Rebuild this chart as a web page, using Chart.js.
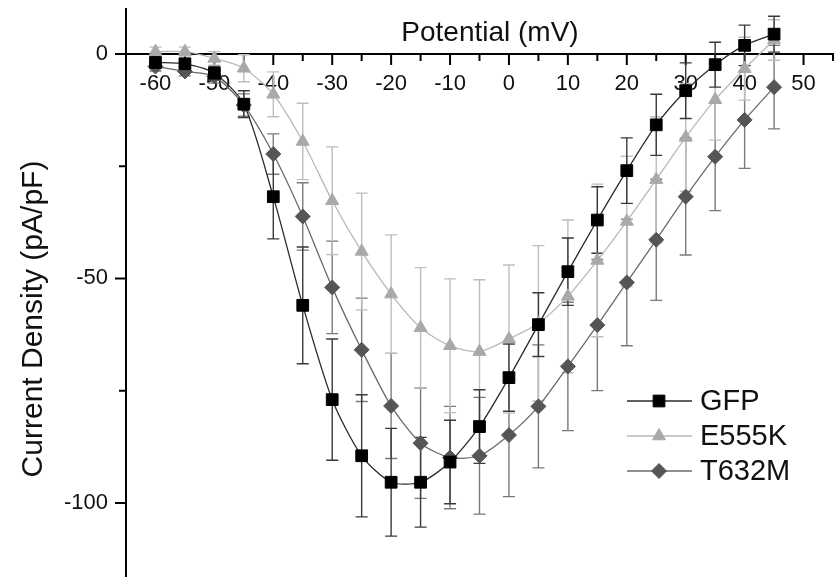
<!DOCTYPE html>
<html lang="en">
<head>
<meta charset="UTF-8">
<title>Current density vs potential</title>
<script src="https://cdn.jsdelivr.net/npm/chart.js@4.4.1/dist/chart.umd.min.js"></script>
<style>
  html, body { margin: 0; padding: 0; background: #fff; }
</style>
</head>
<body>
<canvas id="iv_chart" width="836" height="577"></canvas>
<script>
// potential steps (mV)
var voltages = [-60, -55, -50, -45, -40, -35, -30, -25, -20, -15, -10, -5, 0, 5, 10, 15, 20, 25, 30, 35, 40, 45];

// current density (pA/pF) and SEM
var gfpValues  = [-1.9, -2.2, -4.3, -11.2, -31.8, -56.0, -77.0, -89.5, -95.4, -95.4, -90.9, -83.0, -72.1, -60.3, -48.5, -37.0, -26.0, -15.8, -8.2, -2.4, 1.9, 4.4];
var gfpErrors  = [1.0, 1.0, 1.5, 3.0, 9.4, 13.0, 13.5, 13.6, 12.0, 10.0, 9.3, 8.2, 7.5, 7.1, 7.5, 7.4, 7.3, 6.8, 6.2, 5.0, 4.5, 4.0];
var e555kValues = [0.5, 0.5, -1.0, -3.2, -9.0, -19.5, -32.7, -44.0, -53.5, -61.0, -65.0, -66.3, -63.5, -60.0, -54.0, -46.0, -37.3, -28.0, -18.6, -10.2, -3.3, 3.1];
var e555kErrors = [1.0, 1.0, 1.5, 3.0, 5.0, 8.5, 12.0, 13.0, 13.2, 13.4, 14.9, 16.0, 16.5, 17.3, 17.0, 17.0, 14.5, 14.0, 12.0, 9.0, 7.0, 4.5];
var t632mValues = [-2.8, -3.9, -5.0, -11.4, -22.3, -36.2, -52.0, -65.9, -78.4, -86.7, -89.9, -89.5, -84.9, -78.5, -69.6, -60.4, -50.9, -41.4, -31.8, -22.9, -14.7, -7.4];
var t632mErrors = [1.0, 1.0, 1.5, 2.5, 4.5, 7.5, 10.3, 11.5, 11.7, 12.3, 11.4, 13.0, 13.7, 13.7, 14.3, 14.6, 14.1, 13.5, 13.0, 12.0, 10.8, 9.3];

var seriesLabels = ['GFP', 'E555K', 'T632M'];
var xTitle = 'Potential (mV)';
var yTitle = 'Current Density (pA/pF)';

var FONT = '"Liberation Sans", Arial, sans-serif';

function toPoints(vals) {
    return voltages.map(function (v, i) { return { x: v, y: vals[i] }; });
}

// keep scales from eating into the plot area
function noPadding(scale) {
    scale.paddingTop = 0;
    scale.paddingBottom = 0;
    scale.paddingLeft = 0;
    scale.paddingRight = 0;
}

// error bars drawn under the markers
var errorBars = {
    id: 'errorBars',
    beforeDatasetsDraw: function (chart) {
        var ctx = chart.ctx, xs = chart.scales.x, ys = chart.scales.y;
        ctx.save();
        for (var d = chart.data.datasets.length - 1; d >= 0; d--) {
            var ds = chart.data.datasets[d];
            ctx.strokeStyle = ds.errorColor;
            ctx.lineWidth = 1.4;
            ctx.beginPath();
            ds.data.forEach(function (p, i) {
                var px = xs.getPixelForValue(p.x);
                var top = ys.getPixelForValue(p.y + ds.errors[i]);
                var bot = ys.getPixelForValue(p.y - ds.errors[i]);
                ctx.moveTo(px, top); ctx.lineTo(px, bot);
                ctx.moveTo(px - 6, top); ctx.lineTo(px + 6, top);
                ctx.moveTo(px - 6, bot); ctx.lineTo(px + 6, bot);
            });
            ctx.stroke();
        }
        ctx.restore();
    }
};

// tick marks: long on labelled values, short in between
var axisTicks = {
    id: 'axisTicks',
    beforeDatasetsDraw: function (chart) {
        var ctx = chart.ctx, xs = chart.scales.x, ys = chart.scales.y;
        var y0 = ys.getPixelForValue(0), xl = chart.chartArea.left;
        ctx.save();
        ctx.strokeStyle = '#000';
        ctx.lineWidth = 2;
        ctx.beginPath();
        for (var v = -60; v <= 55; v += 5) {
            var px = xs.getPixelForValue(v);
            ctx.moveTo(px, y0);
            ctx.lineTo(px, y0 + (v % 10 === 0 ? 11 : 7));
        }
        for (var w = -100; w <= 0; w += 25) {
            var py = ys.getPixelForValue(w);
            ctx.moveTo(xl, py);
            ctx.lineTo(xl - (w % 50 === 0 ? 11 : 7), py);
        }
        ctx.stroke();
        ctx.restore();
    }
};

function drawMarker(ctx, style, x, y, r) {
    ctx.beginPath();
    if (style === 'rect') {
        var s = r * Math.SQRT1_2;
        ctx.rect(x - s, y - s, 2 * s, 2 * s);
    } else if (style === 'triangle') {
        ctx.moveTo(x, y - r);
        ctx.lineTo(x + r * Math.sin(2 * Math.PI / 3), y + r / 2);
        ctx.lineTo(x - r * Math.sin(2 * Math.PI / 3), y + r / 2);
        ctx.closePath();
    } else {
        ctx.moveTo(x, y - r); ctx.lineTo(x + r, y);
        ctx.lineTo(x, y + r); ctx.lineTo(x - r, y);
        ctx.closePath();
    }
    ctx.fill();
    ctx.stroke();
}

// axis titles and the legend box
var labelsAndLegend = {
    id: 'labelsAndLegend',
    afterDraw: function (chart) {
        var ctx = chart.ctx;
        ctx.save();
        ctx.fillStyle = '#111';
        ctx.font = '28px ' + FONT;
        ctx.textAlign = 'center';
        ctx.textBaseline = 'alphabetic';
        ctx.fillText(xTitle, 490, 41);

        ctx.translate(42, 319);
        ctx.rotate(-Math.PI / 2);
        ctx.font = '30px ' + FONT;
        ctx.fillText(yTitle, 0, 0);
        ctx.restore();

        ctx.save();
        var rows = [401, 436, 471];
        chart.data.datasets.forEach(function (ds, i) {
            var y = rows[i];
            ctx.strokeStyle = ds.borderColor;
            ctx.lineWidth = 1.4;
            ctx.beginPath();
            ctx.moveTo(627, y); ctx.lineTo(692, y);
            ctx.stroke();
            ctx.fillStyle = ds.pointBackgroundColor;
            ctx.strokeStyle = ds.pointBorderColor;
            ctx.lineWidth = 1;
            drawMarker(ctx, ds.pointStyle, 659, y, ds.pointRadius);
            ctx.fillStyle = '#111';
            ctx.font = '29px ' + FONT;
            ctx.textAlign = 'left';
            ctx.textBaseline = 'middle';
            ctx.fillText(ds.label, 700, y + 1);
        });
        ctx.restore();
    }
};

var ctx = document.getElementById('iv_chart').getContext('2d');
var ivChart = new Chart(ctx, {
    type: 'line',
    data: {
        datasets: [{
            label: seriesLabels[0],
            data: toPoints(gfpValues),
            errors: gfpErrors,
            errorColor: '#3a3a3a',
            borderColor: '#2a2a2a',
            borderWidth: 1.3,
            pointStyle: 'rect',
            pointRadius: 8.3,
            pointBackgroundColor: '#000',
            pointBorderColor: '#000',
            pointBorderWidth: 1,
            tension: 0.25
        }, {
            label: seriesLabels[1],
            data: toPoints(e555kValues),
            errors: e555kErrors,
            errorColor: '#bdbdbd',
            borderColor: '#b8b8b8',
            borderWidth: 1.3,
            pointStyle: 'triangle',
            pointRadius: 7.5,
            pointBackgroundColor: '#a9a9a9',
            pointBorderColor: '#a9a9a9',
            pointBorderWidth: 1,
            tension: 0.25
        }, {
            label: seriesLabels[2],
            data: toPoints(t632mValues),
            errors: t632mErrors,
            errorColor: '#7a7a7a',
            borderColor: '#6a6a6a',
            borderWidth: 1.3,
            pointStyle: 'rectRot',
            pointRadius: 7.5,
            pointBackgroundColor: '#555',
            pointBorderColor: '#555',
            pointBorderWidth: 1,
            tension: 0.25
        }]
    },
    options: {
        responsive: false,
        animation: false,
        layout: { autoPadding: false, padding: { left: 0, right: 3, top: 9, bottom: 0 } },
        plugins: {
            legend: { display: false },
            tooltip: { enabled: false }
        },
        scales: {
            x: {
                type: 'linear',
                position: { y: 0 },
                min: -65,
                max: 55,
                afterFit: function (scale) { scale.height = 0; noPadding(scale); },
                grid: { drawOnChartArea: false, drawTicks: false },
                border: { color: '#000', width: 2 },
                ticks: {
                    stepSize: 5,
                    includeBounds: false,
                    autoSkip: false,
                    maxRotation: 0,
                    padding: 17,
                    color: '#111',
                    font: { family: FONT, size: 22 },
                    callback: function (v) { return v % 10 === 0 ? String(v) : ''; }
                }
            },
            y: {
                type: 'linear',
                position: 'left',
                min: -116.5,
                max: 10,
                afterFit: function (scale) { scale.width = 126; noPadding(scale); },
                grid: { drawOnChartArea: false, drawTicks: false },
                border: { color: '#000', width: 2 },
                ticks: {
                    stepSize: 25,
                    includeBounds: false,
                    padding: 18,
                    color: '#111',
                    font: { family: FONT, size: 22 },
                    callback: function (v) { return v % 50 === 0 ? String(v) : ''; }
                }
            }
        }
    },
    plugins: [axisTicks, errorBars, labelsAndLegend]
});
</script>
</body>
</html>
